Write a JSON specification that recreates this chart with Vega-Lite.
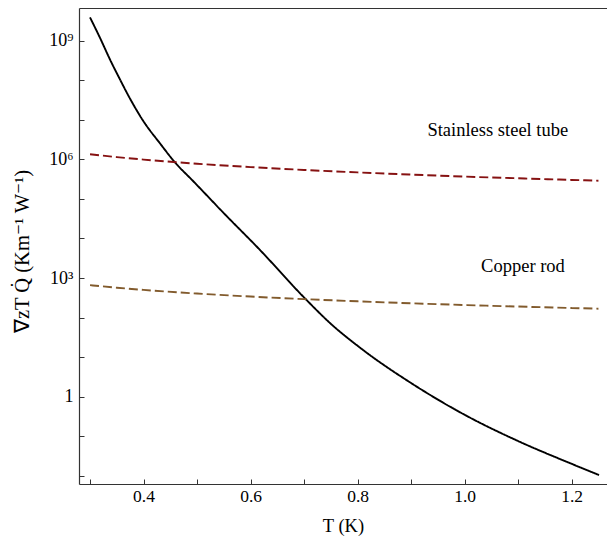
{
  "$schema": "https://vega.github.io/schema/vega-lite/v6.json",
  "width": 528,
  "height": 476,
  "autosize": "none",
  "padding": {"left": 79, "top": 8, "right": 0, "bottom": 57},
  "background": "white",
  "config": {
    "view": {"stroke": null},
    "font": "Liberation Serif",
    "axis": {
      "labelFont": "Liberation Serif",
      "titleFont": "Liberation Serif",
      "labelFontSize": 17.5,
      "titleFontSize": 18,
      "titleFontWeight": "normal",
      "labelColor": "black",
      "titleColor": "black",
      "domainColor": "#333333",
      "domainWidth": 1.2,
      "tickColor": "#333333",
      "tickWidth": 1,
      "grid": false
    }
  },
  "datasets": {
    "curves": [
      {"T": 0.3, "v": 3.88e9, "series": "total"},
      {"T": 0.3187, "v": 1.175e9, "series": "total"},
      {"T": 0.3374, "v": 3.33e8, "series": "total"},
      {"T": 0.3561, "v": 1.04e8, "series": "total"},
      {"T": 0.3747, "v": 3.44e7, "series": "total"},
      {"T": 0.399, "v": 9.57e6, "series": "total"},
      {"T": 0.4308, "v": 2.53e6, "series": "total"},
      {"T": 0.4588, "v": 8.37e5, "series": "total"},
      {"T": 0.4925, "v": 2.84e5, "series": "total"},
      {"T": 0.556, "v": 3.6e4, "series": "total"},
      {"T": 0.614, "v": 5754, "series": "total"},
      {"T": 0.7036, "v": 287, "series": "total"},
      {"T": 0.7484, "v": 72.9, "series": "total"},
      {"T": 0.8101, "v": 15.2, "series": "total"},
      {"T": 0.8998, "v": 2.22, "series": "total"},
      {"T": 1.0007, "v": 0.345, "series": "total"},
      {"T": 1.0997, "v": 0.0759, "series": "total"},
      {"T": 1.2006, "v": 0.0199, "series": "total"},
      {"T": 1.2511, "v": 0.01047, "series": "total"},
      {"T": 0.3, "v": 1349000, "series": "steel"},
      {"T": 0.35, "v": 1142000, "series": "steel"},
      {"T": 0.4, "v": 988000, "series": "steel"},
      {"T": 0.5, "v": 777000, "series": "steel"},
      {"T": 0.6, "v": 638000, "series": "steel"},
      {"T": 0.7, "v": 540000, "series": "steel"},
      {"T": 0.8, "v": 468000, "series": "steel"},
      {"T": 0.9, "v": 412000, "series": "steel"},
      {"T": 1.0, "v": 367000, "series": "steel"},
      {"T": 1.1, "v": 332000, "series": "steel"},
      {"T": 1.2, "v": 302000, "series": "steel"},
      {"T": 1.25, "v": 289000, "series": "steel"},
      {"T": 0.3, "v": 661, "series": "copper"},
      {"T": 0.35, "v": 570, "series": "copper"},
      {"T": 0.4, "v": 501, "series": "copper"},
      {"T": 0.5, "v": 405, "series": "copper"},
      {"T": 0.6, "v": 340, "series": "copper"},
      {"T": 0.7, "v": 293, "series": "copper"},
      {"T": 0.8, "v": 258, "series": "copper"},
      {"T": 0.9, "v": 230, "series": "copper"},
      {"T": 1.0, "v": 208, "series": "copper"},
      {"T": 1.1, "v": 190, "series": "copper"},
      {"T": 1.2, "v": 175, "series": "copper"},
      {"T": 1.25, "v": 168, "series": "copper"}
    ],
    "notes": [
      {"T": 1.062, "v": 5.54e6, "label": "Stainless steel tube"},
      {"T": 1.109, "v": 2052, "label": "Copper rod"}
    ]
  },
  "resolve": {"axis": {"x": "independent"}},
  "layer": [
    {
      "data": {"name": "curves"},
      "mark": {"type": "line", "interpolate": "monotone", "strokeWidth": 1.9, "clip": true},
      "encoding": {
        "x": {
          "field": "T", "type": "quantitative",
          "scale": {"domain": [0.2794, 1.266], "nice": false, "zero": false},
          "axis": {
            "orient": "bottom",
            "values": [0.3, 0.4, 0.5, 0.6, 0.7, 0.8, 0.9, 1.0, 1.1, 1.2],
            "labelExpr": "round(datum.value * 10) % 2 == 0 ? format(datum.value, '.1f') : ''",
            "labelFont": "Liberation Serif",
            "labelFontSize": 17.5,
            "tickSize": -5,
            "labelPadding": 8,
            "title": "T (K)",
            "titleFont": "Liberation Serif",
            "titleFontSize": 18.5,
            "titleY": 41,
            "titleBaseline": "middle"
          }
        },
        "y": {
          "field": "v", "type": "quantitative",
          "scale": {"type": "log", "domain": [0.00621, 6.71e9], "nice": false},
          "axis": {
            "values": [0.01, 0.1, 1, 10, 100, 1000, 10000, 100000, 1000000, 10000000, 100000000, 1000000000],
            "labelExpr": "datum.value == 1 ? '1' : datum.value == 1000 ? '10³' : datum.value == 1000000 ? '10⁶' : datum.value == 1000000000 ? '10⁹' : ''",
            "labelFont": "Liberation Serif",
            "labelFontSize": 18,
            "tickSize": -5,
            "labelPadding": 11,
            "title": "∇zT  Q̇ (Km⁻¹ W⁻¹)",
            "titleFont": "Liberation Serif",
            "titleFontSize": 20.5,
            "titleX": -57,
            "titleY": 243,
            "titleBaseline": "middle",
            "titleAlign": "center"
          }
        },
        "detail": {"field": "series"},
        "color": {
          "field": "series", "type": "nominal",
          "scale": {"domain": ["total", "steel", "copper"], "range": ["#000000", "#861212", "#825b2d"]},
          "legend": null
        },
        "strokeDash": {
          "field": "series", "type": "nominal",
          "scale": {"domain": ["total", "steel", "copper"], "range": [[1, 0], [9, 4], [9, 4]]},
          "legend": null
        }
      }
    },
    {
      "data": {"name": "notes"},
      "mark": {"type": "text", "font": "Liberation Serif", "fontSize": 18.5, "align": "center", "baseline": "middle", "color": "black"},
      "encoding": {
        "x": {
          "field": "T", "type": "quantitative",
          "axis": {"orient": "top", "labels": false, "ticks": false, "title": null, "domain": true}
        },
        "y": {"field": "v", "type": "quantitative"},
        "text": {"field": "label"}
      }
    }
  ]
}
